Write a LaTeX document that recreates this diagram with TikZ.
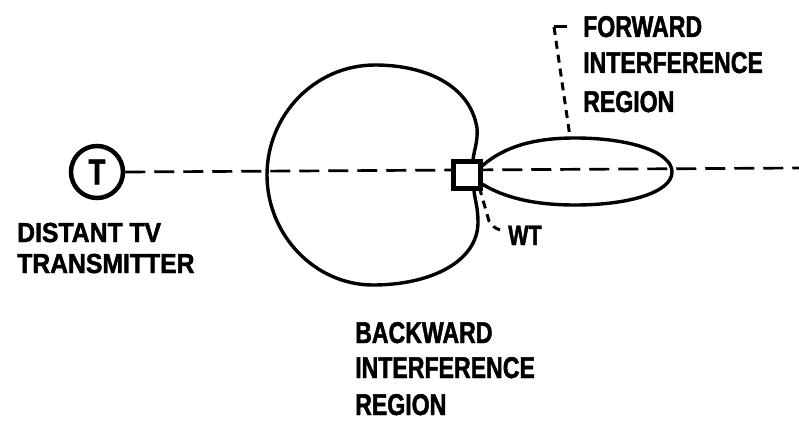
\documentclass[tikz,border=0pt]{standalone}
\usepackage{fontspec}
\newfontfamily\lbl[FakeStretch=0.77, FakeBold=1.6]{Liberation Sans Bold}
\newfontfamily\lblwide[FakeStretch=0.9, FakeBold=1.6]{Liberation Sans Bold}
\begin{document}
\begin{tikzpicture}[x=1pt,y=-1pt,
  outline/.style={line width=3.4pt, line join=round},
  axisline/.style={line width=2.7pt, dash pattern=on 20pt off 9pt},
  leader/.style={line width=3pt, dash pattern=on 8pt off 6pt},
  caption/.style={anchor=base west, inner sep=0pt, font=\lbl\fontsize{30}{36}\selectfont},
  captionleft/.style={anchor=base west, inner sep=0pt, font=\lblwide\fontsize{27.5}{32}\selectfont}]
\useasboundingbox (0,0) rectangle (799,422);

% transmitter
\node[circle, draw, line width=4.5pt, minimum size=52pt, inner sep=0pt,
      font=\lbl\fontsize{36}{36}\selectfont] (tx) at (97,172) {T};
\coordinate (far) at (799,168);
\draw[axisline] (tx.east) -- (far);

% backward lobe (large, indented at the turbine)
\draw[outline] (473,160) .. controls (474,150) and (478,142) .. (477,128)
  .. controls (470,85) and (425,65) .. (375,65)
  .. controls (315,65) and (267,115) .. (267,175)
  .. controls (267,235) and (315,285) .. (373,285)
  .. controls (430,285) and (478,262) .. (478,222)
  .. controls (478,208) and (475,200) .. (474,191);

% forward lobe
\draw[outline] (482,166) .. controls (505,146) and (535,138) .. (575,138)
  .. controls (630,138) and (672,152) .. (672,172)
  .. controls (672,192) and (630,205) .. (575,205)
  .. controls (535,205) and (505,198) .. (482,184);

% wind turbine
\node[draw, fill=white, line width=5.5pt, minimum size=27pt, inner sep=0pt] (wt) at (467,175) {};

% labels
\node[caption] (fwd1) at (583,37) {FORWARD};
\node[caption] (fwd2) at (583,73) {INTERFERENCE};
\node[caption] (fwd3) at (583,112) {REGION};
\coordinate (fcorner) at (554,27);
\coordinate (fend) at (567,27);
\coordinate (ftop) at (570,137);
\draw[leader] (fcorner) -- (ftop);
\draw[line width=3pt] (fcorner) -- (fend);

\node[caption, font=\lbl\fontsize{28}{32}\selectfont] (wtl) at (508,245) {WT};
\coordinate (wbend) at (489,221);
\coordinate (wend) at (500,230);
\draw[leader] (wt.south east) ++(-4pt,4pt) -- (wbend) to[bend right=20] (wend);

\node[captionleft] (dist1) at (17,242) {DISTANT TV};
\node[captionleft] (dist2) at (17,273) {TRANSMITTER};

\node[caption] (bk1) at (355,343) {BACKWARD};
\node[caption] (bk2) at (355,378) {INTERFERENCE};
\node[caption] (bk3) at (355,415) {REGION};
\end{tikzpicture}
\end{document}
